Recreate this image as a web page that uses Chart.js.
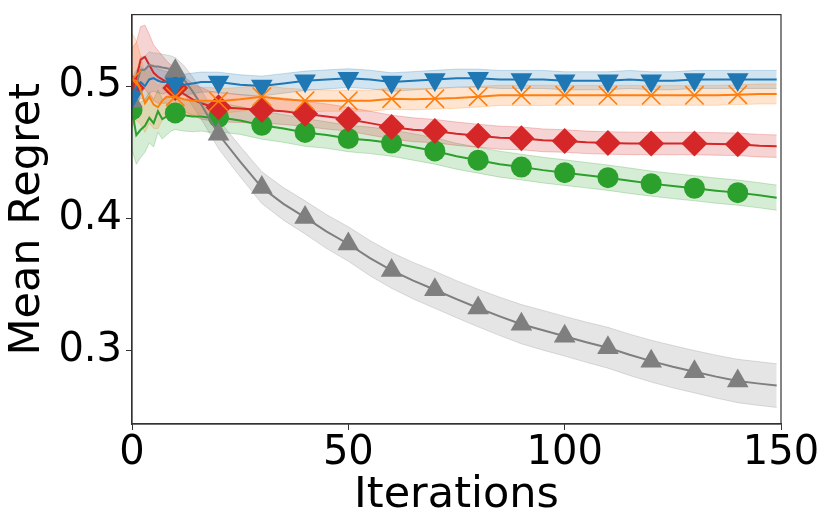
<!DOCTYPE html>
<html lang="en">
<head>
    <meta charset="UTF-8">
    <title>Mean Regret vs Iterations</title>
    <script src="https://cdn.jsdelivr.net/npm/chart.js"></script>
    <style>
        body {
            margin: 0;
            padding: 0;
            background: #fff;
        }
        #wrap {
            width: 831px;
            height: 531px;
        }
    </style>
</head>
<body>
    <div id="wrap"><canvas id="regretChart"></canvas></div>

    <script>
        const iterations = [0, 1, 2, 3, 4, 5, 6, 7, 8, 9, 10, 12, 14, 16, 18, 20,
            25, 30, 35, 40, 45, 50, 55, 60, 65, 70, 75, 80, 85, 90, 95, 100,
            105, 110, 115, 120, 125, 130, 135, 140, 145, 149];

        // mean regret per method
        const blueMean = [0.492, 0.499, 0.503, 0.500, 0.505, 0.506, 0.504, 0.503, 0.503, 0.502, 0.502,
            0.501, 0.502, 0.503, 0.503, 0.503,
            0.501, 0.500, 0.502, 0.504, 0.505, 0.506, 0.505, 0.503, 0.504, 0.505, 0.506, 0.506, 0.505,
            0.505, 0.505, 0.504, 0.504, 0.504, 0.505, 0.504, 0.504, 0.505, 0.505, 0.505, 0.505, 0.505];
        const orangeMean = [0.505, 0.504, 0.497, 0.487, 0.492, 0.486, 0.484, 0.489, 0.492, 0.492, 0.492,
            0.490, 0.489, 0.489, 0.489, 0.4885,
            0.490, 0.492, 0.490, 0.489, 0.489, 0.489, 0.489, 0.4905, 0.490, 0.4905, 0.491, 0.492, 0.493,
            0.493, 0.493, 0.493, 0.493, 0.493, 0.493, 0.493, 0.493, 0.493, 0.493, 0.4935, 0.494, 0.494];
        const redMean = [0.4985, 0.506, 0.520, 0.522, 0.516, 0.510, 0.507, 0.505, 0.503, 0.501, 0.4985,
            0.494, 0.490, 0.487, 0.485, 0.484,
            0.483, 0.482, 0.481, 0.479, 0.477, 0.475, 0.472, 0.469, 0.467, 0.466, 0.464, 0.4625, 0.461,
            0.4605, 0.459, 0.4585, 0.4575, 0.457, 0.4567, 0.4566, 0.4566, 0.4566, 0.4563, 0.456, 0.455, 0.4546];
        const greenMean = [0.482, 0.463, 0.467, 0.470, 0.476, 0.472, 0.481, 0.475, 0.477, 0.479, 0.4797,
            0.478, 0.477, 0.477, 0.476, 0.4764,
            0.474, 0.4704, 0.468, 0.465, 0.463, 0.4604, 0.459, 0.457, 0.454, 0.451, 0.447, 0.444, 0.441,
            0.4388, 0.4365, 0.4346, 0.4327, 0.4308, 0.4285, 0.4263, 0.4245, 0.4228, 0.421, 0.4195, 0.4175, 0.4157];
        const grayMean = [0.4885, 0.501, 0.512, 0.5125, 0.516, 0.515, 0.5148, 0.514, 0.5135, 0.5128, 0.5115,
            0.505, 0.496, 0.486, 0.475, 0.4636,
            0.443, 0.4233, 0.411, 0.4008, 0.390, 0.3807, 0.370, 0.3607, 0.353, 0.3461, 0.339, 0.3323, 0.326,
            0.3201, 0.3155, 0.3110, 0.3065, 0.3023, 0.297, 0.2922, 0.288, 0.2842, 0.2805, 0.2772, 0.2752, 0.2737];

        // half width of the shaded band per method
        const blueSpread = [0.014, 0.013, 0.012, 0.011, 0.010, 0.010, 0.009, 0.009, 0.008, 0.008, 0.008,
            0.008, 0.0078, 0.0076, 0.0075, 0.0075,
            0.0075, 0.0075, 0.0074, 0.0073, 0.0072, 0.0071, 0.007, 0.007, 0.0069, 0.0069, 0.0068, 0.0068, 0.0068,
            0.0068, 0.0068, 0.0068, 0.0068, 0.0068, 0.0068, 0.0068, 0.0068, 0.0068, 0.0068, 0.0068, 0.0068, 0.0068];
        const orangeSpread = [0.035, 0.03, 0.026, 0.022, 0.02, 0.018, 0.016, 0.015, 0.014, 0.013, 0.012,
            0.011, 0.011, 0.010, 0.010, 0.0095,
            0.009, 0.009, 0.0085, 0.0085, 0.008, 0.008, 0.008, 0.008, 0.008, 0.0078, 0.0078, 0.0078, 0.0076,
            0.0076, 0.0076, 0.0075, 0.0075, 0.0075, 0.0075, 0.0075, 0.0075, 0.0075, 0.0075, 0.0075, 0.0075, 0.0075];
        const redSpread = [0.03, 0.027, 0.025, 0.024, 0.023, 0.021, 0.02, 0.018, 0.016, 0.015, 0.014,
            0.013, 0.012, 0.012, 0.011, 0.011,
            0.0105, 0.010, 0.010, 0.0095, 0.0095, 0.009, 0.009, 0.009, 0.009, 0.0088, 0.0088, 0.0087, 0.0087,
            0.0086, 0.0086, 0.0085, 0.0085, 0.0085, 0.0085, 0.0085, 0.0085, 0.0085, 0.0085, 0.0085, 0.0085, 0.0085];
        const greenSpread = [0.03, 0.022, 0.021, 0.02, 0.019, 0.018, 0.016, 0.015, 0.014, 0.013, 0.0125,
            0.012, 0.0115, 0.011, 0.011, 0.011,
            0.0105, 0.0105, 0.0105, 0.0105, 0.010, 0.010, 0.010, 0.010, 0.010, 0.010, 0.0098, 0.0098, 0.0098,
            0.0097, 0.0097, 0.0097, 0.0096, 0.0096, 0.0096, 0.0095, 0.0095, 0.0095, 0.0095, 0.0095, 0.0095, 0.0095];
        const graySpread = [0.008, 0.009, 0.010, 0.010, 0.010, 0.010, 0.010, 0.010, 0.010, 0.010, 0.010,
            0.0105, 0.011, 0.011, 0.011, 0.011,
            0.0115, 0.012, 0.0123, 0.0125, 0.0128, 0.013, 0.0133, 0.0135, 0.0138, 0.014, 0.014, 0.0142, 0.0145,
            0.0148, 0.015, 0.015, 0.0152, 0.0154, 0.0156, 0.0158, 0.016, 0.016, 0.0162, 0.0164, 0.0165, 0.0165];

        const xTickValues = [0, 50, 100, 150];
        const yTickValues = [0.3, 0.4, 0.5];
        const yTickLabels = ['0.3', '0.4', '0.5'];

        // drawing order: first entry ends up on top
        const series = [
            { name: 'orange', mean: orangeMean, spread: orangeSpread, hex: '#ff7f0e', style: 'crossRot', radius: 13, rot: 0 },
            { name: 'blue', mean: blueMean, spread: blueSpread, hex: '#1f77b4', style: 'triangle', radius: 12.5, rot: 180 },
            { name: 'gray', mean: grayMean, spread: graySpread, hex: '#7f7f7f', style: 'triangle', radius: 12.5, rot: 0 },
            { name: 'red', mean: redMean, spread: redSpread, hex: '#d62728', style: 'rectRot', radius: 13, rot: 0 },
            { name: 'green', mean: greenMean, spread: greenSpread, hex: '#2ca02c', style: 'circle', radius: 10.5, rot: 0 }
        ];

        function hexToRgba(hex, a) {
            const n = parseInt(hex.slice(1), 16);
            return `rgba(${(n >> 16) & 255}, ${(n >> 8) & 255}, ${n & 255}, ${a})`;
        }

        function toPoints(values) {
            return iterations.map((it, i) => ({ x: it, y: values[i] }));
        }

        // bands first (drawn underneath), then the lines with markers
        const datasets = [];
        series.forEach(s => {
            datasets.push({
                label: s.name + ' upper',
                data: toPoints(s.mean.map((m, i) => m + s.spread[i])),
                borderColor: hexToRgba(s.hex, 0.25),
                borderWidth: 1,
                pointRadius: 0,
                fill: false,
                order: 10
            });
            datasets.push({
                label: s.name + ' lower',
                data: toPoints(s.mean.map((m, i) => m - s.spread[i])),
                borderColor: hexToRgba(s.hex, 0.25),
                backgroundColor: hexToRgba(s.hex, 0.2),
                borderWidth: 1,
                pointRadius: 0,
                fill: '-1',
                order: 10
            });
        });
        series.forEach((s, k) => {
            const isCross = s.style === 'crossRot';
            datasets.push({
                label: s.name,
                data: toPoints(s.mean),
                borderColor: s.hex,
                borderWidth: 2,
                fill: false,
                tension: 0,
                pointStyle: s.style,
                pointRotation: s.rot,
                pointRadius: ctx => (iterations[ctx.dataIndex] % 10 === 0 ? s.radius : 0),
                pointBackgroundColor: s.hex,
                pointBorderColor: s.hex,
                pointBorderWidth: isCross ? 1.6 : 0,
                clip: 0,
                order: k + 1
            });
        });

        // box around the plot area, like matplotlib spines
        const framePlugin = {
            id: 'frame',
            afterDatasetsDraw(chart) {
                const { ctx, chartArea: a } = chart;
                ctx.save();
                ctx.strokeStyle = '#333';
                ctx.lineWidth = 1.2;
                ctx.strokeRect(a.left, a.top, a.right - a.left, a.bottom - a.top);
                ctx.restore();
            }
        };

        const ctx = document.getElementById('regretChart').getContext('2d');
        new Chart(ctx, {
            type: 'line',
            data: { datasets: datasets },
            options: {
                responsive: true,
                maintainAspectRatio: false,
                animation: false,
                layout: { padding: { top: 13, right: 50, left: 0, bottom: 0 } },
                plugins: {
                    legend: { display: false },
                    tooltip: { enabled: false }
                },
                scales: {
                    x: {
                        type: 'linear',
                        min: 0,
                        max: 150,
                        afterFit: scale => {
                            scale.height = 107;
                            scale.paddingLeft = 0;
                            scale.paddingRight = 0;
                        },
                        afterBuildTicks: scale => { scale.ticks = xTickValues.map(v => ({ value: v })); },
                        ticks: {
                            color: '#000',
                            padding: 0,
                            maxRotation: 0,
                            font: { family: 'DejaVu Sans', size: 40 },
                            callback: v => String(v)
                        },
                        grid: { drawOnChartArea: false, tickLength: 6, color: '#333' },
                        border: { color: '#333', width: 1.2 },
                        title: {
                            display: true,
                            text: 'Iterations',
                            color: '#000',
                            font: { family: 'DejaVu Sans', size: 43 },
                            padding: { top: 0, bottom: 9 }
                        }
                    },
                    y: {
                        type: 'linear',
                        min: 0.2447,
                        max: 0.554,
                        afterFit: scale => {
                            scale.width = 132;
                            scale.paddingTop = 0;
                            scale.paddingBottom = 0;
                        },
                        afterBuildTicks: scale => { scale.ticks = yTickValues.map(v => ({ value: v })); },
                        ticks: {
                            color: '#000',
                            padding: 4,
                            font: { family: 'DejaVu Sans', size: 40 },
                            callback: v => yTickLabels[yTickValues.findIndex(t => Math.abs(t - v) < 1e-6)]
                        },
                        grid: { drawOnChartArea: false, tickLength: 6, color: '#333' },
                        border: { color: '#333', width: 1.2 },
                        title: {
                            display: true,
                            text: 'Mean Regret',
                            color: '#000',
                            font: { family: 'DejaVu Sans', size: 43 },
                            padding: { top: 2, bottom: 0 }
                        }
                    }
                }
            },
            plugins: [framePlugin]
        });
    </script>
</body>
</html>
